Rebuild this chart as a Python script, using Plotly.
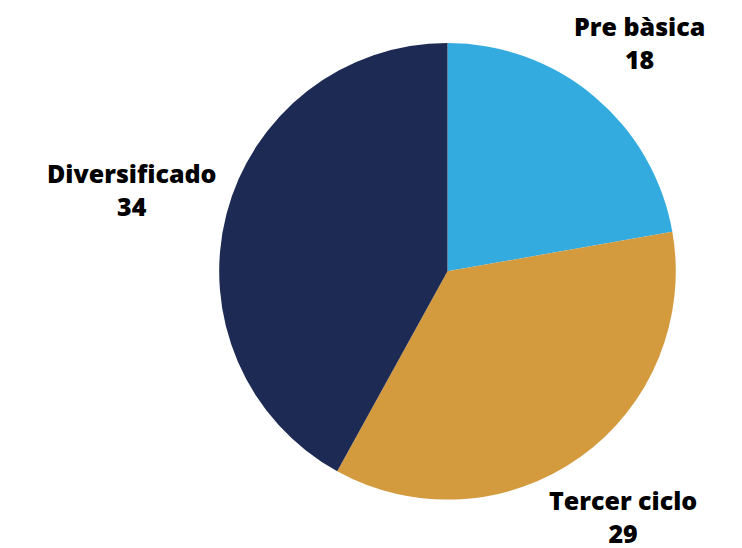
import math
import plotly.graph_objects as go

labels = ["Pre bàsica", "Tercer ciclo", "Diversificado"]
values = [18, 29, 34]
colors = ["#34ABDF", "#D39A3E", "#1D2A53"]

W, H = 742, 548
# pie domain (paper fractions)
dom_x = [0.2015, 0.9831]
dom_y = [0.1029, 0.9361]
font_size = 25
label_gap = 9  # px between the pie edge and the nearest corner of a label

fig = go.Figure(go.Pie(
    labels=labels,
    values=values,
    sort=False,
    direction="clockwise",
    rotation=0,
    marker=dict(colors=colors, line=dict(width=0)),
    textinfo="none",
    domain=dict(x=dom_x, y=dom_y),
    showlegend=False,
    hoverinfo="label+value",
))

# outside labels, pushed out along each slice's mid-angle until the
# (estimated) text box clears the pie by label_gap pixels
cx = (dom_x[0] + dom_x[1]) / 2
cy = (dom_y[0] + dom_y[1]) / 2
r_px = min((dom_x[1] - dom_x[0]) * W, (dom_y[1] - dom_y[0]) * H) / 2
total = sum(values)
cum = 0
for lab, val in zip(labels, values):
    mid = (cum + val / 2) / total * 2 * math.pi
    cum += val
    ux, uy = math.sin(mid), math.cos(mid)
    bw = 0.52 * font_size * max(len(lab), len(str(val)))
    bh = 2.3 * font_size
    t = r_px
    while True:
        px, py = t * ux, t * uy
        qx = min(max(0.0, px - bw / 2), px + bw / 2)
        qy = min(max(0.0, py - bh / 2), py + bh / 2)
        if math.hypot(qx, qy) >= r_px + label_gap:
            break
        t += 0.5
    fig.add_annotation(
        x=cx + px / W,
        y=cy + py / H,
        xref="paper", yref="paper",
        text=f"{lab}<br>{val}",
        showarrow=False,
        xanchor="center", yanchor="middle", align="center",
        font=dict(family="Open Sans", size=font_size, color="#000000", weight=800),
    )

fig.update_layout(
    width=W, height=H,
    margin=dict(l=0, r=0, t=0, b=0),
    paper_bgcolor="white",
    plot_bgcolor="white",
)
fig.write_html("out.html")
